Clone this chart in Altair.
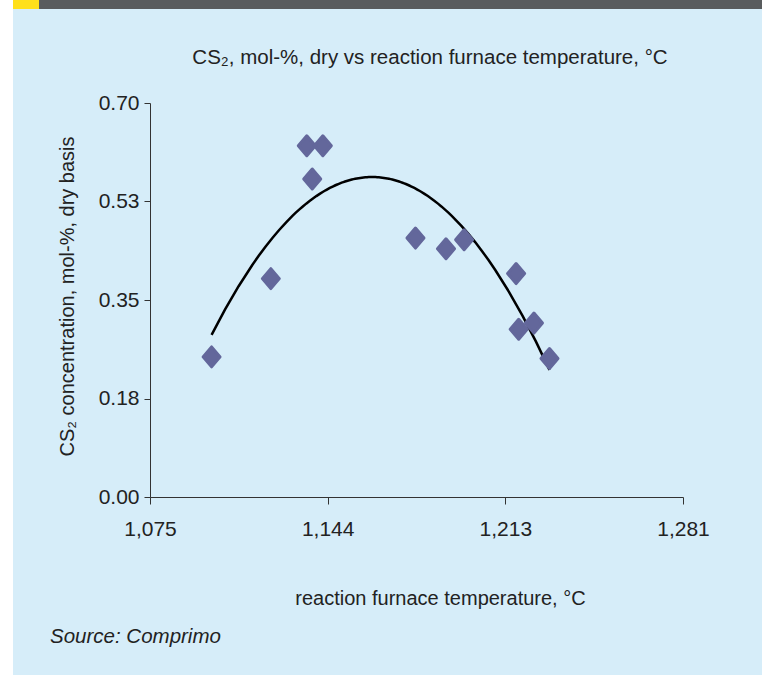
import altair as alt
import pandas as pd

# ---- data ----
temperature = [1098.8, 1121.7, 1135.6, 1141.8, 1137.7, 1177.6, 1189.4, 1196.4,
               1216.5, 1217.5, 1223.4, 1229.4]
cs2 = [0.249, 0.388, 0.624, 0.624, 0.565, 0.460, 0.441, 0.457,
       0.397, 0.298, 0.309, 0.246]

x_ticks = [1075, 1143.67, 1212.33, 1281]
x_tick_labels = ["1,075", "1,144", "1,213", "1,281"]
y_ticks = [0, 0.175, 0.35, 0.525, 0.70]
y_tick_labels = ["0.00", "0.18", "0.35", "0.53", "0.70"]

title_text = ["CS\u2082, mol-%, dry vs reaction furnace temperature, °C"]
x_title = "reaction furnace temperature, °C"
y_title = "CS\u2082 concentration, mol-%, dry basis"
source_text = ["Source: Comprimo"]

df = pd.DataFrame({"t": temperature, "c": cs2})

FONT = "Liberation Sans"
TXT = "#222222"
BLUE = "#d6edf9"
DIAMOND = "#63679b"

# plot area geometry (pixels)
W, H = 533, 394
PL, PT = 150, 103


def label_expr(vals, labels):
    v = ",".join(repr(x) for x in vals)
    l = ",".join("'" + s + "'" for s in labels)
    return f"[{l}][indexof([{v}], datum.value)]"


x_enc = alt.X(
    "t:Q",
    scale=alt.Scale(domain=[1075, 1281], nice=False, zero=False),
    axis=alt.Axis(
        values=x_ticks, labelExpr=label_expr(x_ticks, x_tick_labels),
        title=x_title, titleX=290, titleY=107, titleBaseline="alphabetic",
        titleAlign="center", titleFontSize=20, titleFontWeight="normal",
        titleFont=FONT, titleColor=TXT,
        labelFont=FONT, labelFontSize=21, labelColor=TXT, labelPadding=14,
        tickSize=7, tickColor="#333333", domainColor="#333333", grid=False,
        labelFlush=False, zindex=1,
    ),
)
y_enc = alt.Y(
    "c:Q",
    scale=alt.Scale(domain=[0, 0.70], nice=False),
    axis=alt.Axis(
        values=y_ticks, labelExpr=label_expr(y_ticks, y_tick_labels),
        title=y_title, titleX=-77, titleY=193, titleAngle=-90,
        titleBaseline="alphabetic", titleAlign="center",
        titleFontSize=20, titleFontWeight="normal", titleFont=FONT, titleColor=TXT,
        labelFont=FONT, labelFontSize=21, labelColor=TXT, labelPadding=5,
        tickSize=6, tickColor="#333333", domainColor="#333333", grid=False,
        labelFlush=False, zindex=1,
    ),
)

one = alt.Data(values=[{}])

panel = alt.Chart(one).mark_rect(color=BLUE).encode(
    x=alt.value(13 - PL), x2=alt.value(762 - PL),
    y=alt.value(0 - PT), y2=alt.value(675 - PT),
)
bar = alt.Chart(one).mark_rect(color="#595c5e").encode(
    x=alt.value(13 - PL), x2=alt.value(762 - PL),
    y=alt.value(0 - PT), y2=alt.value(9 - PT),
)
yellow = alt.Chart(one).mark_rect(color="#ffe01b").encode(
    x=alt.value(13 - PL), x2=alt.value(39 - PL),
    y=alt.value(0 - PT), y2=alt.value(9 - PT),
)

points = alt.Chart(df).mark_point(
    shape="M0,-1L0.85,0L0,1L-0.85,0Z", filled=True, size=400,
    color=DIAMOND, stroke=DIAMOND, strokeWidth=3, strokeJoin="round", opacity=1,
).encode(x=x_enc, y=y_enc)

trend = alt.Chart(df).transform_regression(
    "t", "c", method="poly", order=2
).mark_line(color="black", strokeWidth=2.5).encode(x="t:Q", y="c:Q")

title = alt.Chart(pd.DataFrame({"txt": title_text})).mark_text(
    font=FONT, fontSize=20.5, color=TXT, align="center", baseline="alphabetic",
).encode(x=alt.value(430 - PL), y=alt.value(64 - PT), text="txt:N")

source = alt.Chart(pd.DataFrame({"txt": source_text})).mark_text(
    font=FONT, fontSize=20.5, fontStyle="italic", color=TXT, align="left",
    baseline="middle",
).encode(x=alt.value(50 - PL), y=alt.value(637 - PT), text="txt:N")

chart = alt.layer(panel, bar, yellow, trend, points, title, source).properties(
    width=W, height=H,
    autosize=alt.AutoSizeParams(type="none"),
    padding={"left": PL, "top": PT, "right": 768 - PL - W, "bottom": 675 - PT - H},
    background="white",
).configure_view(stroke=None)

chart.save("out.html", embed_options={"renderer": "svg", "actions": False})
